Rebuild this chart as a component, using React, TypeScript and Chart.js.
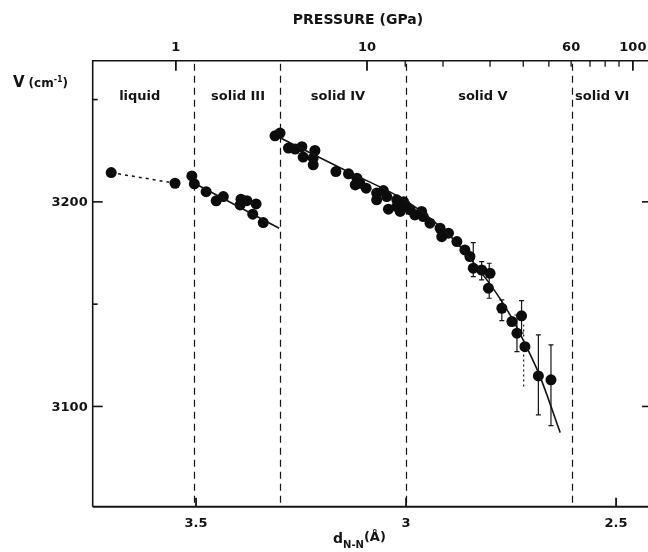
import React, { useEffect, useRef } from 'react';
import { Chart, registerables } from 'chart.js';
Chart.register(...registerables);

// ---- data (d in Å, v in cm-1) ----
const liquidD = [3.702, 3.55];
const liquidV = [3214.3, 3209.1];

const solidIIID = [3.51, 3.504, 3.476, 3.452, 3.435, 3.393, 3.395, 3.379, 3.357, 3.365, 3.34];
const solidIIIV = [3212.7, 3208.8, 3205.0, 3200.5, 3202.6, 3201.3, 3198.5, 3200.6, 3199.0, 3194.0, 3189.9];
const solidIIIFitD = [3.504, 3.302];
const solidIIIFitV = [3209.1, 3187.1];

const solidIVD = [3.312, 3.3, 3.28, 3.264, 3.248, 3.245, 3.221, 3.217, 3.221, 3.167, 3.137, 3.117, 3.121, 3.095, 3.11, 3.07, 3.054, 3.046, 3.07, 3.042, 3.022, 3.006, 3.022];
const solidIVV = [3232.3, 3233.6, 3226.3, 3225.8, 3227.0, 3221.9, 3221.4, 3225.1, 3218.1, 3214.8, 3213.7, 3211.6, 3208.3, 3206.7, 3209.1, 3204.3, 3205.5, 3202.6, 3201.0, 3196.4, 3201.0, 3200.1, 3197.7];

const solidVD = [2.99, 3.002, 3.014, 2.979, 2.963, 2.959, 2.943, 2.919, 2.915, 2.899, 2.879, 2.86, 2.848, 2.84, 2.82, 2.8, 2.804, 2.772, 2.748, 2.725, 2.736, 2.717, 2.685, 2.655];
const solidVV = [3196.1, 3198.5, 3195.3, 3193.6, 3195.3, 3192.8, 3189.6, 3187.1, 3183.0, 3184.7, 3180.6, 3176.5, 3173.3, 3167.6, 3166.7, 3165.1, 3157.8, 3148.0, 3141.5, 3144.3, 3135.8, 3129.2, 3114.9, 3113.0];

const fitIVVD = [3.3, 3.133, 3.002, 2.919, 2.871, 2.8, 2.752, 2.717, 2.681, 2.633];
const fitIVVV = [3231.3, 3214.2, 3200.7, 3187.9, 3178.1, 3159.8, 3144.6, 3130.7, 3114.6, 3087.2];

// error bars
const errD = [2.84, 2.82, 2.802, 2.772, 2.725, 2.736, 2.685, 2.655];
const errLow = [3163.5, 3161.9, 3152.9, 3142.0, 3135.9, 3126.8, 3095.9, 3090.6];
const errHigh = [3180.1, 3170.8, 3170.0, 3152.1, 3151.7, 3144.7, 3135.0, 3130.1];
const dottedErrD = [2.72];
const dottedErrLow = [3109.7];
const dottedErrHigh = [3139.9];

// phases
const phaseBoundaryD = [3.506, 3.3, 3.001, 2.605];
const phaseNames = ['liquid', 'solid III', 'solid IV', 'solid V', 'solid VI'];
const phaseLabelD = [3.634, 3.4, 3.162, 2.817, 2.533];

// axes
const dTicks = [3.5, 3.0, 2.5];
const dTickLabels = ['3.5', '3', '2.5'];
const vMajorTicks = [3100, 3200];
const vMinorTicks = [3150, 3250];
const pressureTickValues = [1, 10, 15, 20, 30, 40, 50, 60, 70, 80, 90, 100];
const pressureTickD = [3.548, 3.093, 3.002, 2.912, 2.8, 2.721, 2.66, 2.607, 2.562, 2.526, 2.493, 2.46];
const pressureLabelled = [1, 10, 60, 100];
const pressureMajor = [1, 10, 100];

const FONT = '"DejaVu Sans", "Liberation Sans", sans-serif';
const INK = '#141414';

function pts(ds: number[], vs: number[]) {
  return ds.map((d, i) => ({ x: d, y: vs[i] }));
}

const refPlugin = {
  id: 'refPlugin',
  beforeDatasetsDraw(chart: any) {
    const { ctx, chartArea, scales } = chart;
    const { top, bottom } = chartArea;
    const x = scales.x, y = scales.y;
    ctx.save();
    ctx.strokeStyle = INK;
    ctx.lineWidth = 1.2;
    ctx.setLineDash([7, 5]);
    phaseBoundaryD.forEach((d) => {
      const px = Math.round(x.getPixelForValue(d)) + 0.5;
      ctx.beginPath();
      ctx.moveTo(px, top + 3);
      ctx.lineTo(px, bottom - 3);
      ctx.stroke();
    });
    ctx.setLineDash([]);
    ctx.lineWidth = 1.2;
    errD.forEach((d, i) => {
      const px = x.getPixelForValue(d);
      const y1 = y.getPixelForValue(errLow[i]);
      const y2 = y.getPixelForValue(errHigh[i]);
      ctx.beginPath();
      ctx.moveTo(px, y1); ctx.lineTo(px, y2);
      ctx.moveTo(px - 2.5, y1); ctx.lineTo(px + 2.5, y1);
      ctx.moveTo(px - 2.5, y2); ctx.lineTo(px + 2.5, y2);
      ctx.stroke();
    });
    ctx.setLineDash([2, 3]);
    dottedErrD.forEach((d, i) => {
      const px = x.getPixelForValue(d);
      const y1 = y.getPixelForValue(dottedErrLow[i]);
      const y2 = y.getPixelForValue(dottedErrHigh[i]);
      ctx.beginPath();
      ctx.moveTo(px, y1); ctx.lineTo(px, y2);
      ctx.stroke();
    });
    ctx.restore();
  },
  afterDraw(chart: any) {
    const { ctx, chartArea, scales } = chart;
    const { left, right, top, bottom } = chartArea;
    const x = scales.x, y = scales.y;
    ctx.save();
    ctx.strokeStyle = INK;
    ctx.fillStyle = INK;
    // frame
    ctx.lineWidth = 1.6;
    ctx.beginPath();
    ctx.moveTo(right, top); ctx.lineTo(left, top); ctx.lineTo(left, bottom);
    ctx.stroke();
    ctx.lineWidth = 2;
    ctx.beginPath();
    ctx.moveTo(left, bottom); ctx.lineTo(right, bottom);
    ctx.stroke();

    // bottom ticks
    ctx.lineWidth = 1.8;
    dTicks.forEach((d) => {
      const px = x.getPixelForValue(d);
      ctx.beginPath(); ctx.moveTo(px, bottom); ctx.lineTo(px, bottom - 9); ctx.stroke();
    });
    ctx.font = `bold 13px ${FONT}`;
    ctx.textAlign = 'center';
    ctx.textBaseline = 'middle';
    dTicks.forEach((d, i) => ctx.fillText(dTickLabels[i], x.getPixelForValue(d), bottom + 17));

    // left / right ticks
    ctx.lineWidth = 1.6;
    vMajorTicks.forEach((v) => {
      const py = y.getPixelForValue(v);
      ctx.beginPath(); ctx.moveTo(left, py); ctx.lineTo(left + 10, py); ctx.stroke();
      ctx.beginPath(); ctx.moveTo(right, py); ctx.lineTo(right - 6, py); ctx.stroke();
    });
    vMinorTicks.forEach((v) => {
      const py = y.getPixelForValue(v);
      ctx.beginPath(); ctx.moveTo(left, py); ctx.lineTo(left + 5, py); ctx.stroke();
    });
    ctx.textAlign = 'right';
    vMajorTicks.forEach((v) => ctx.fillText(String(v), left - 5, y.getPixelForValue(v) + 1));

    // top pressure ticks
    pressureTickD.forEach((d, i) => {
      const px = x.getPixelForValue(d);
      const p = pressureTickValues[i];
      const len = pressureMajor.includes(p) ? 10 : 6;
      ctx.lineWidth = pressureMajor.includes(p) ? 1.8 : 1.3;
      ctx.beginPath(); ctx.moveTo(px, top); ctx.lineTo(px, top + len); ctx.stroke();
    });
    ctx.textAlign = 'center';
    pressureTickD.forEach((d, i) => {
      const p = pressureTickValues[i];
      if (pressureLabelled.includes(p)) ctx.fillText(String(p), x.getPixelForValue(d), top - 13);
    });

    // phase labels
    ctx.font = `bold 13px ${FONT}`;
    phaseNames.forEach((n, i) => ctx.fillText(n, x.getPixelForValue(phaseLabelD[i]), 97));

    // titles
    ctx.font = `bold 14px ${FONT}`;
    ctx.fillText('PRESSURE (GPa)', 358, 20);

    // y title: V (cm-1)
    ctx.textAlign = 'left';
    let cx = 13;
    ctx.font = `bold 15px ${FONT}`;
    ctx.fillText('V', cx, 83); cx += ctx.measureText('V').width + 4;
    ctx.font = `bold 12px ${FONT}`;
    ctx.fillText('(cm', cx, 84); cx += ctx.measureText('(cm').width;
    ctx.font = `bold 8px ${FONT}`;
    ctx.fillText('-1', cx, 80); cx += ctx.measureText('-1').width;
    ctx.font = `bold 12px ${FONT}`;
    ctx.fillText(')', cx, 84);

    // x title: d N-N (Å)
    cx = 333;
    ctx.font = `bold 14px ${FONT}`;
    ctx.fillText('d', cx, 539); cx += ctx.measureText('d').width;
    ctx.font = `bold 10px ${FONT}`;
    ctx.fillText('N-N', cx, 545); cx += ctx.measureText('N-N').width;
    ctx.font = `bold 13px ${FONT}`;
    ctx.fillText('(Å)', cx, 538);
    ctx.restore();
  },
};

export default function App() {
  const canvasRef = useRef<HTMLCanvasElement | null>(null);
  useEffect(() => {
    if (!canvasRef.current) return;
    const dot = { showLine: false, pointRadius: 5.5, pointHoverRadius: 5.5, pointBackgroundColor: '#0c0c0c', pointBorderWidth: 0, borderColor: '#0c0c0c' };
    const line = { showLine: true, pointRadius: 0, borderColor: INK, borderWidth: 1.6, fill: false };
    const chart = new Chart(canvasRef.current, {
      type: 'scatter',
      data: {
        datasets: [
          { label: 'liquid line', data: pts(liquidD, liquidV), ...line, borderDash: [3, 4], borderWidth: 1.5 } as any,
          { label: 'solid III fit', data: pts(solidIIIFitD, solidIIIFitV), ...line } as any,
          { label: 'solid IV-V fit', data: pts(fitIVVD, fitIVVV), ...line, cubicInterpolationMode: 'monotone' } as any,
          { label: 'liquid', data: pts(liquidD, liquidV), ...dot } as any,
          { label: 'solid III', data: pts(solidIIID, solidIIIV), ...dot } as any,
          { label: 'solid IV', data: pts(solidIVD, solidIVV), ...dot } as any,
          { label: 'solid V', data: pts(solidVD, solidVV), ...dot } as any,
        ],
      },
      options: {
        animation: false,
        responsive: false,
        maintainAspectRatio: false,
        devicePixelRatio: 1,
        layout: { autoPadding: false, padding: { left: 92.7, right: 0, top: 60.7, bottom: 45.3 } },
        plugins: { legend: { display: false }, tooltip: { enabled: false } },
        events: [],
        scales: {
          x: { type: 'linear', reverse: true, min: 2.424, max: 3.746, display: false },
          y: { type: 'linear', min: 3051, max: 3269, display: false },
        },
      },
      plugins: [refPlugin],
    });
    return () => chart.destroy();
  }, []);
  return (
    <div style={{ position: 'fixed', left: 0, top: 0, width: 648, height: 552, background: '#fff' }}>
      <canvas ref={canvasRef} width={648} height={552} style={{ display: 'block', width: 648, height: 552 }} />
    </div>
  );
}
